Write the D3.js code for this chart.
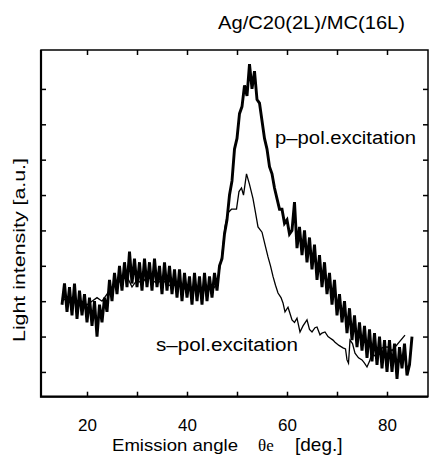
<!DOCTYPE html>
<html>
<head>
<meta charset="utf-8">
<script src="https://cdn.jsdelivr.net/npm/d3@7"></script>
<style>
  body { margin: 0; background: #fff; }
  svg { display: block; }
  text { font-family: "Liberation Sans", Arial, sans-serif; fill: #000; }
</style>
</head>
<body>
<svg></svg>
<script>
// emission angle (deg) vs light intensity (a.u.)
var xTicks = [20, 30, 40, 50, 60, 70, 80];
var yTicks = [10, 20, 30, 40, 50, 60, 70, 80, 90];

var pPol = [
  [15.0, 29], [15.5, 35], [16.0, 27], [16.5, 34], [17.0, 26], [17.5, 35], [18.0, 25], [18.5, 33],
  [19.0, 26], [19.5, 32], [20.0, 24], [20.5, 31], [21.0, 23], [21.5, 30], [22.0, 20], [22.5, 29],
  [23.0, 24], [23.5, 31], [24.0, 27], [24.5, 36], [25.0, 30], [25.5, 38], [26.0, 32], [26.5, 40],
  [27.0, 33], [27.5, 41], [28.0, 34], [28.5, 44], [29.0, 35], [29.5, 42], [30.0, 34], [30.5, 41],
  [31.0, 33], [31.5, 42], [32.0, 34], [32.5, 41], [33.0, 33], [33.5, 42], [34.0, 34], [34.5, 40],
  [35.0, 32], [35.5, 41], [36.0, 33], [36.5, 40], [37.0, 32], [37.5, 39], [38.0, 31], [38.5, 39],
  [39.0, 30], [39.5, 38], [40.0, 31], [40.5, 37], [41.0, 29], [41.5, 38], [42.0, 30], [42.5, 37],
  [43.0, 29], [43.5, 38], [44.0, 30], [44.5, 37], [45.0, 31], [45.5, 38], [46.0, 33], [46.5, 40],
  [47.0, 42], [47.5, 49], [48.0, 53], [48.5, 60], [49.0, 64], [49.5, 73], [50.0, 76], [50.5, 83],
  [51.0, 85], [51.5, 91], [52.0, 88], [52.5, 97], [53.0, 90], [53.5, 95], [54.0, 87], [54.5, 86],
  [55.0, 81], [55.5, 76], [56.0, 73], [56.5, 68], [57.0, 66], [57.5, 62], [58.0, 59], [58.5, 56],
  [59.0, 56], [59.5, 52], [60.0, 53], [60.5, 49], [61.0, 50], [61.5, 58], [62.0, 45], [62.5, 51],
  [63.0, 43], [63.5, 50], [64.0, 41], [64.5, 48], [65.0, 39], [65.5, 46], [66.0, 36], [66.5, 43],
  [67.0, 34], [67.5, 41], [68.0, 32], [68.5, 38], [69.0, 29], [69.5, 36], [70.0, 26], [70.5, 32],
  [71.0, 24], [71.5, 30], [72.0, 21], [72.5, 28], [73.0, 19], [73.5, 26], [74.0, 17], [74.5, 24],
  [75.0, 16], [75.5, 23], [76.0, 14], [76.5, 22], [77.0, 13], [77.5, 21], [78.0, 12], [78.5, 20],
  [79.0, 11], [79.5, 19], [80.0, 10], [80.5, 19], [81.0, 10], [81.5, 18], [82.0, 8], [82.5, 17],
  [83.0, 11], [83.5, 18], [84.0, 9], [84.5, 12], [85.0, 20]
];

var sPol = [
  [15, 31], [16, 30], [17, 31], [18, 29], [19, 30], [20, 29], [21, 30], [22, 31], [23, 30],
  [24, 32], [25, 34], [26, 35], [27, 36], [28, 37], [29, 34], [30, 36], [31, 35], [32, 37],
  [33, 36], [34, 35], [35, 36], [36, 35], [37, 34], [38, 35], [39, 34], [40, 33], [41, 34],
  [42, 33], [43, 33], [44, 34], [45, 33], [46, 35], [47, 43], [47.6, 51], [48.2, 55], [48.9, 56],
  [49.9, 56], [50.4, 61], [50.9, 62], [51.3, 60], [51.9, 66], [52.5, 63], [53.2, 59], [53.7, 55],
  [54.2, 51], [55.0, 49.5], [55.6, 46], [56.2, 42.5], [56.7, 40], [57.2, 37], [57.7, 34.5],
  [58.2, 32.3], [58.8, 31], [59.2, 29.5], [59.6, 27], [60.2, 28.3], [60.6, 26.5], [61.0, 24.7],
  [61.5, 24], [62.0, 25.2], [62.6, 21.3], [63.2, 23], [64.0, 24.7], [64.5, 22], [65.0, 21.3],
  [65.6, 22.5], [66.0, 22.7], [66.6, 20.5], [67.0, 21], [67.6, 21.3], [68.2, 20], [68.6, 19.6],
  [69.2, 19], [69.6, 18.4], [70.4, 17.5], [71.2, 16.8], [71.7, 16.5], [72.0, 13.4], [72.3, 12.5],
  [72.6, 19], [73.1, 18], [73.6, 15.3], [74.3, 14], [75.0, 13.4], [75.5, 12.5], [76.0, 11.4],
  [76.5, 13], [77.0, 15.3], [77.6, 14.5], [78.2, 16], [79.0, 16.8], [80.0, 17.1], [80.2, 17],
  [81.0, 16], [83.6, 20.4]
];

var width = 430, height = 455;
var mLeft = 41, mRight = 428, mTop = 50, mBottom = 396.7;

var svg = d3.select("svg").attr("width", width).attr("height", height);

var x = d3.scaleLinear().domain([10.8, 88.2]).range([mLeft, mRight]);
var y = d3.scaleLinear().domain([3, 101]).range([mBottom, mTop]);

// axes, ticks pointing inward
svg.append("g")
  .attr("transform", "translate(0," + mBottom + ")")
  .call(d3.axisBottom(x).tickValues(xTicks).tickSize(-5).tickPadding(22)
    .tickFormat(function(d) { return d % 20 === 0 ? d : ""; }))
  .call(function(g) { g.select(".domain").remove(); })
  .selectAll("text").style("font-size", "17px");
svg.append("g")
  .attr("transform", "translate(0," + mTop + ")")
  .call(d3.axisTop(x).tickValues(xTicks).tickSize(-5).tickFormat(""))
  .call(function(g) { g.select(".domain").remove(); });
svg.append("g")
  .attr("transform", "translate(" + mLeft + ",0)")
  .call(d3.axisLeft(y).tickValues(yTicks).tickSize(-5).tickFormat(""))
  .call(function(g) { g.select(".domain").remove(); });
svg.append("g")
  .attr("transform", "translate(" + mRight + ",0)")
  .call(d3.axisRight(y).tickValues(yTicks).tickSize(-5).tickFormat(""))
  .call(function(g) { g.select(".domain").remove(); });

svg.selectAll(".tick line").attr("stroke", "#000").attr("stroke-width", 1.5);

// frame
svg.append("rect")
  .attr("x", mLeft).attr("y", mTop)
  .attr("width", mRight - mLeft).attr("height", mBottom - mTop)
  .attr("fill", "none").attr("stroke", "#000").attr("stroke-width", 1.5);
svg.append("path")
  .attr("d", "M" + mLeft + "," + mTop + "V" + mBottom + "H" + mRight)
  .attr("fill", "none").attr("stroke", "#000").attr("stroke-width", 2.2);

var line = d3.line()
  .x(function(d) { return x(d[0]); })
  .y(function(d) { return y(d[1]); });

svg.append("path")
  .datum(sPol)
  .attr("d", line)
  .attr("fill", "none").attr("stroke", "#000").attr("stroke-width", 1.3);

svg.append("path")
  .datum(pPol)
  .attr("d", line)
  .attr("fill", "none").attr("stroke", "#000").attr("stroke-width", 2.9)
  .attr("stroke-linejoin", "miter").attr("stroke-miterlimit", 3);

// labels
svg.append("text").attr("x", 218).attr("y", 29)
  .attr("textLength", 187).attr("lengthAdjust", "spacingAndGlyphs")
  .style("font-size", "18px").text("Ag/C20(2L)/MC(16L)");

svg.append("text").attr("x", 275).attr("y", 144)
  .attr("textLength", 141).attr("lengthAdjust", "spacingAndGlyphs")
  .style("font-size", "18px").text("p\u2013pol.excitation");

svg.append("text").attr("x", 156).attr("y", 351)
  .attr("textLength", 142).attr("lengthAdjust", "spacingAndGlyphs")
  .style("font-size", "18px").text("s\u2013pol.excitation");

svg.append("text").attr("x", 112).attr("y", 451)
  .attr("textLength", 126).attr("lengthAdjust", "spacingAndGlyphs")
  .style("font-size", "17px").text("Emission angle");
svg.append("text").attr("x", 258).attr("y", 451)
  .style("font-family", "'Liberation Serif', 'DejaVu Serif', serif")
  .style("font-size", "17px").text("\u03b8e");
svg.append("text").attr("x", 295).attr("y", 451)
  .style("font-size", "19px").text("[deg.]");

svg.append("text")
  .attr("transform", "translate(25,250) rotate(-90)")
  .attr("text-anchor", "middle")
  .attr("textLength", 184).attr("lengthAdjust", "spacingAndGlyphs")
  .style("font-size", "17px").text("Light intensity [a.u.]");
</script>
</body>
</html>
